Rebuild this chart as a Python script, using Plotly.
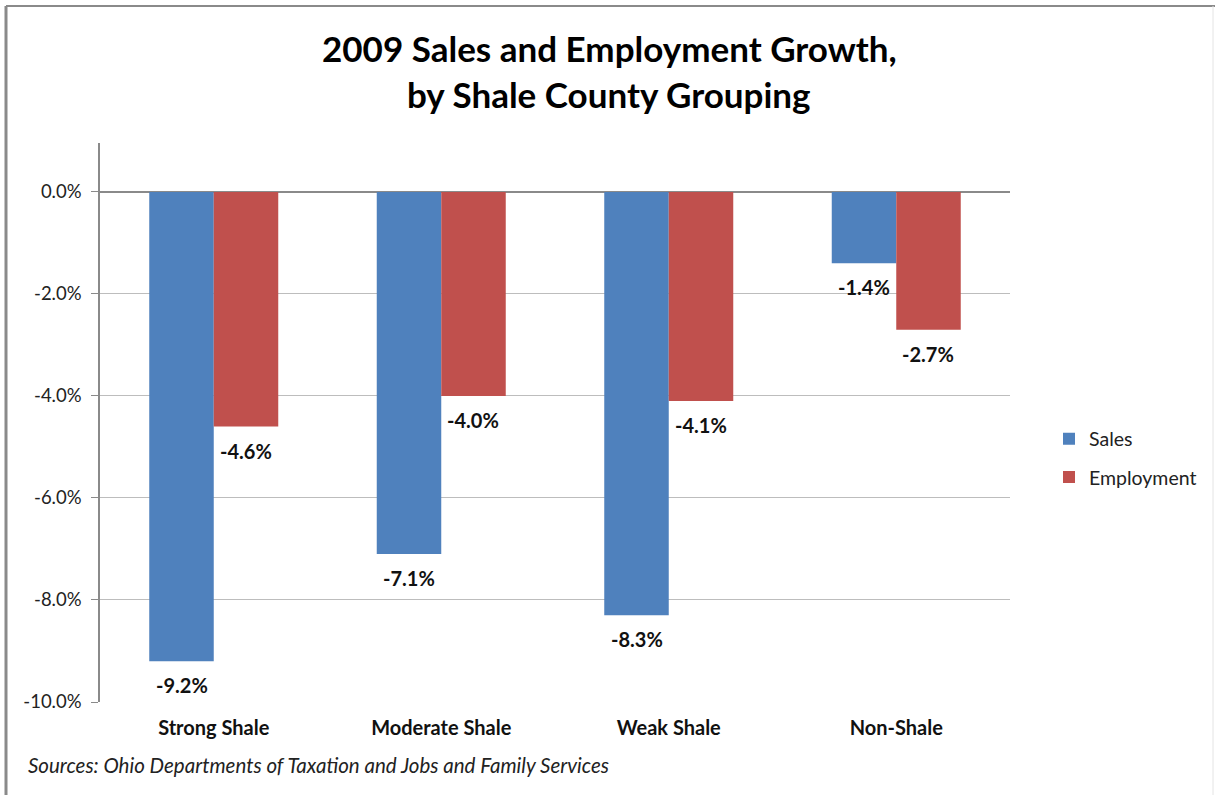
import plotly.graph_objects as go

# Data
categories = ["Strong Shale", "Moderate Shale", "Weak Shale", "Non-Shale"]
sales = [-9.2, -7.1, -8.3, -1.4]
employment = [-4.6, -4.0, -4.1, -2.7]
tick_vals = [0, -2, -4, -6, -8, -10]
tick_text = ["0.0%", "-2.0%", "-4.0%", "-6.0%", "-8.0%", "-10.0%"]

SALES_COLOR = "#4F81BD"
EMP_COLOR = "#C0504D"
FONT = "Lato"

W, H = 1215, 795
L, R, T, B = 100, 205, 143, 93
BARGAP = 0.433

fig = go.Figure()
fig.add_trace(go.Bar(name="Sales", x=categories, y=sales, marker_color=SALES_COLOR,
                     marker_line_width=0, legendgroup="s"))
fig.add_trace(go.Bar(name="Employment", x=categories, y=employment, marker_color=EMP_COLOR,
                     marker_line_width=0, legendgroup="e"))

# Value labels under each bar end
plot_w = W - L - R
cat_w = plot_w / len(categories)
bar_w = cat_w * (1 - BARGAP) / 2
annotations = []
for series, shift in ((sales, -bar_w / 2), (employment, bar_w / 2)):
    for c, v in zip(categories, series):
        annotations.append(dict(
            x=c, y=v, xref="x", yref="y", xshift=shift, yshift=-10,
            text=f"{v:.1f}%", showarrow=False, yanchor="top", xanchor="center",
            font=dict(family=FONT, size=20, color="#111111", weight="bold"),
        ))

plot_h = H - T - B
def py(pix):
    return (H - B - pix) / plot_h
def px(pix):
    return (pix - L) / plot_w

# Title lines
annotations.append(dict(x=px(609), y=py(48), xref="paper", yref="paper",
                        text="2009 Sales and Employment Growth,", showarrow=False,
                        xanchor="center", yanchor="middle",
                        font=dict(family=FONT, size=35, color="#000000", weight="bold")))
annotations.append(dict(x=px(609), y=py(94), xref="paper", yref="paper",
                        text="by Shale County Grouping", showarrow=False,
                        xanchor="center", yanchor="middle",
                        font=dict(family=FONT, size=35, color="#000000", weight="bold")))
# Source note
annotations.append(dict(x=px(26), y=py(765), xref="paper", yref="paper",
                        text="<i>Sources: Ohio Departments of Taxation and Jobs and Family Services</i>",
                        showarrow=False, xanchor="left", yanchor="middle",
                        font=dict(family=FONT, size=20.5, color="#222222")))

# Outer frame
shapes = [
    dict(type="line", xref="paper", yref="paper", x0=px(6), x1=px(1215), y0=py(6), y1=py(6),
         line=dict(color="#8a8a8a", width=2)),
    dict(type="line", xref="paper", yref="paper", x0=px(6), x1=px(6), y0=py(6), y1=py(795),
         line=dict(color="#8a8a8a", width=3)),
    dict(type="line", xref="paper", yref="paper", x0=px(1213), x1=px(1213), y0=py(6), y1=py(795),
         line=dict(color="#e4e4e4", width=1)),
]

fig.update_layout(
    width=W, height=H,
    margin=dict(l=L, r=R, t=T, b=B, pad=0),
    paper_bgcolor="white", plot_bgcolor="white",
    barmode="group", bargap=BARGAP, bargroupgap=0,
    font=dict(family=FONT, color="#222222"),
    showlegend=True,
    legend=dict(x=px(1049), y=py(458), xanchor="left", yanchor="middle",
                font=dict(family=FONT, size=19.5, color="#222222"),
                tracegroupgap=10, bgcolor="rgba(0,0,0,0)"),
    annotations=annotations,
    shapes=shapes,
)
fig.update_xaxes(showgrid=False, showline=False, ticks="",
                 tickfont=dict(family=FONT, size=20, color="#111111", weight="bold"),
                 ticklabelstandoff=12)
fig.update_yaxes(range=[-10, 0.96], tickvals=tick_vals, ticktext=tick_text,
                 showgrid=True, gridcolor="#bdbdbd", gridwidth=1,
                 zeroline=True, zerolinecolor="#8a8a8a", zerolinewidth=1.5,
                 showline=True, linecolor="#8a8a8a", linewidth=1.5,
                 ticks="outside", ticklen=7, tickcolor="#8a8a8a",
                 tickfont=dict(family=FONT, size=18.5, color="#222222"),
                 ticklabelstandoff=6)

fig.write_html("out.html")
